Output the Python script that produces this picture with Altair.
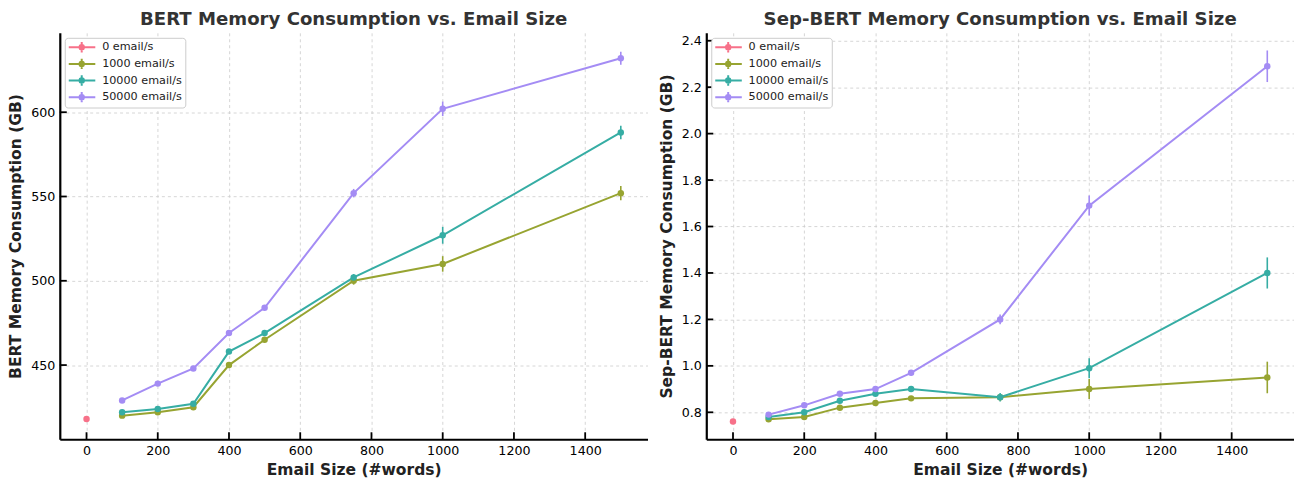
import altair as alt
import pandas as pd

# ---------------- data ----------------
series_names = ["0 email/s", "1000 email/s", "10000 email/s", "50000 email/s"]
series_colors = ["#f77189", "#97a431", "#36ada4", "#a48cf4"]
email_sizes = [100, 200, 300, 400, 500, 750, 1000, 1500]
zero_size = [0]

bert_zero = [418]
bert_zero_err = [1]
bert_1000 = [420, 422, 425, 450, 465, 500, 510, 552]
bert_1000_err = [1, 1, 1, 1.5, 1.5, 2.3, 4.6, 4.2]
bert_10000 = [422, 424, 427, 458, 469, 502, 527, 588]
bert_10000_err = [1, 1, 1, 1.5, 1.5, 2, 5, 4]
bert_50000 = [429, 439, 448, 469, 484, 552, 602, 632]
bert_50000_err = [1, 1, 1, 1.5, 1.5, 2.5, 4.3, 3.8]

sep_zero = [0.76]
sep_zero_err = [0.005]
sep_1000 = [0.77, 0.78, 0.82, 0.84, 0.86, 0.865, 0.90, 0.95]
sep_1000_err = [0.005, 0.005, 0.005, 0.005, 0.008, 0.012, 0.043, 0.068]
sep_10000 = [0.78, 0.80, 0.85, 0.88, 0.90, 0.865, 0.99, 1.40]
sep_10000_err = [0.005, 0.005, 0.008, 0.008, 0.01, 0.018, 0.043, 0.067]
sep_50000 = [0.79, 0.83, 0.88, 0.90, 0.97, 1.20, 1.69, 2.29]
sep_50000_err = [0.005, 0.008, 0.01, 0.01, 0.012, 0.021, 0.043, 0.068]

x_ticks = [0, 200, 400, 600, 800, 1000, 1200, 1400]
bert_y_ticks = [450, 500, 550, 600]
sep_y_ticks = [0.8, 1.0, 1.2, 1.4, 1.6, 1.8, 2.0, 2.2, 2.4]

x_domain = [-75, 1575]
bert_y_domain = [406, 647.1]
sep_y_domain = [0.684, 2.434]

FONT = "DejaVu Sans"
W, H = 590, 408


def build_df(groups):
    rows = []
    for name, xs, ys, es in groups:
        for x, y, e in zip(xs, ys, es):
            rows.append({"series": name, "x": x, "y": y, "lo": y - e, "hi": y + e})
    return pd.DataFrame(rows)


bert_df = build_df([
    (series_names[0], zero_size, bert_zero, bert_zero_err),
    (series_names[1], email_sizes, bert_1000, bert_1000_err),
    (series_names[2], email_sizes, bert_10000, bert_10000_err),
    (series_names[3], email_sizes, bert_50000, bert_50000_err),
])
sep_df = build_df([
    (series_names[0], zero_size, sep_zero, sep_zero_err),
    (series_names[1], email_sizes, sep_1000, sep_1000_err),
    (series_names[2], email_sizes, sep_10000, sep_10000_err),
    (series_names[3], email_sizes, sep_50000, sep_50000_err),
])

# legend glyph: horizontal line + error bar + dot (two concentric octagons)
LEGEND_PATH = (
    "M-1,0L3.1,0M1,-0.8L1,0.8"
    "M1.38,0L1.269,0.269L1,0.38L0.731,0.269L0.62,0L0.731,-0.269L1,-0.38L1.269,-0.269Z"
    "M1.12,0L1.085,0.085L1,0.12L0.915,0.085L0.88,0L0.915,-0.085L1,-0.12L1.085,-0.085Z"
)


def panel(df, y_domain, y_ticks, y_fmt, title, y_title):
    xs = alt.Scale(domain=x_domain, nice=False, zero=False)
    ys = alt.Scale(domain=y_domain, nice=False, zero=False)
    x_axis = alt.Axis(values=x_ticks, title="Email Size (#words)", format="d",
                      labelPadding=5, titlePadding=6)
    y_axis = alt.Axis(values=y_ticks, title=y_title, format=y_fmt,
                      labelPadding=5, titlePadding=7)
    X = alt.X("x:Q", scale=xs, axis=x_axis)
    Y = alt.Y("y:Q", scale=ys, axis=y_axis)
    cs = alt.Scale(domain=series_names, range=series_colors)
    leg = alt.Legend(
        title=None, orient="top-left", offset=5,
        symbolType=LEGEND_PATH, symbolSize=169, symbolStrokeWidth=2,
        labelFont=FONT, labelFontSize=11.25, labelColor="#222222",
        labelOffset=19.5, rowPadding=3.7, clipHeight=13,
        fillColor="white", strokeColor="#cccccc", cornerRadius=3, padding=3,
    )
    base = alt.Chart(df)
    lines = base.mark_line(strokeWidth=2).encode(
        x=X, y=Y, color=alt.Color("series:N", scale=cs, legend=leg))
    bars = base.mark_rule(strokeWidth=1.6).encode(
        x=X, y=alt.Y("lo:Q", scale=ys, axis=y_axis), y2="hi:Q",
        color=alt.Color("series:N", scale=cs, legend=None))
    pts = base.mark_circle(size=42, opacity=1).encode(
        x=X, y=Y,
        color=alt.Color("series:N", scale=cs, legend=None))
    xt = alt.Chart(pd.DataFrame({"x": x_ticks})).mark_rule(
        color="black", strokeWidth=1.8).encode(
        x=X, y=alt.value(H), y2=alt.value(H - 7))
    yt = alt.Chart(pd.DataFrame({"y": y_ticks})).mark_rule(
        color="black", strokeWidth=1.8).encode(
        y=Y, x=alt.value(0), x2=alt.value(7))
    return alt.layer(lines, bars, pts, xt, yt).properties(
        width=W, height=H,
        title=alt.TitleParams(title, font=FONT, fontSize=18.2, fontWeight="bold",
                              color="#333333", anchor="middle", offset=4),
    )


left = panel(bert_df, bert_y_domain, bert_y_ticks, "d",
             "BERT Memory Consumption vs. Email Size", "BERT Memory Consumption (GB)")
right = panel(sep_df, sep_y_domain, sep_y_ticks, ".1f",
              "Sep-BERT Memory Consumption vs. Email Size",
              "Sep-BERT Memory Consumption (GB)")

chart = alt.hconcat(left, right, spacing=11).resolve_scale(
    color="independent", x="independent", y="independent"
).resolve_legend(color="independent").properties(
    padding={"left": 0, "top": 0, "right": 0, "bottom": 0}
).configure_view(stroke=None).configure_axis(
    labelFont=FONT, labelFontSize=12.7, labelColor="black",
    titleFont=FONT, titleFontSize=15.6, titleFontWeight="bold", titleColor="#222222",
    ticks=False, tickSize=0, domainColor="black", domainWidth=2.2,
    grid=True, gridColor="#cccccc", gridDash=[3, 3], gridWidth=0.8,
)

chart.save("out.html", embed_options={"renderer": "svg", "actions": False})
